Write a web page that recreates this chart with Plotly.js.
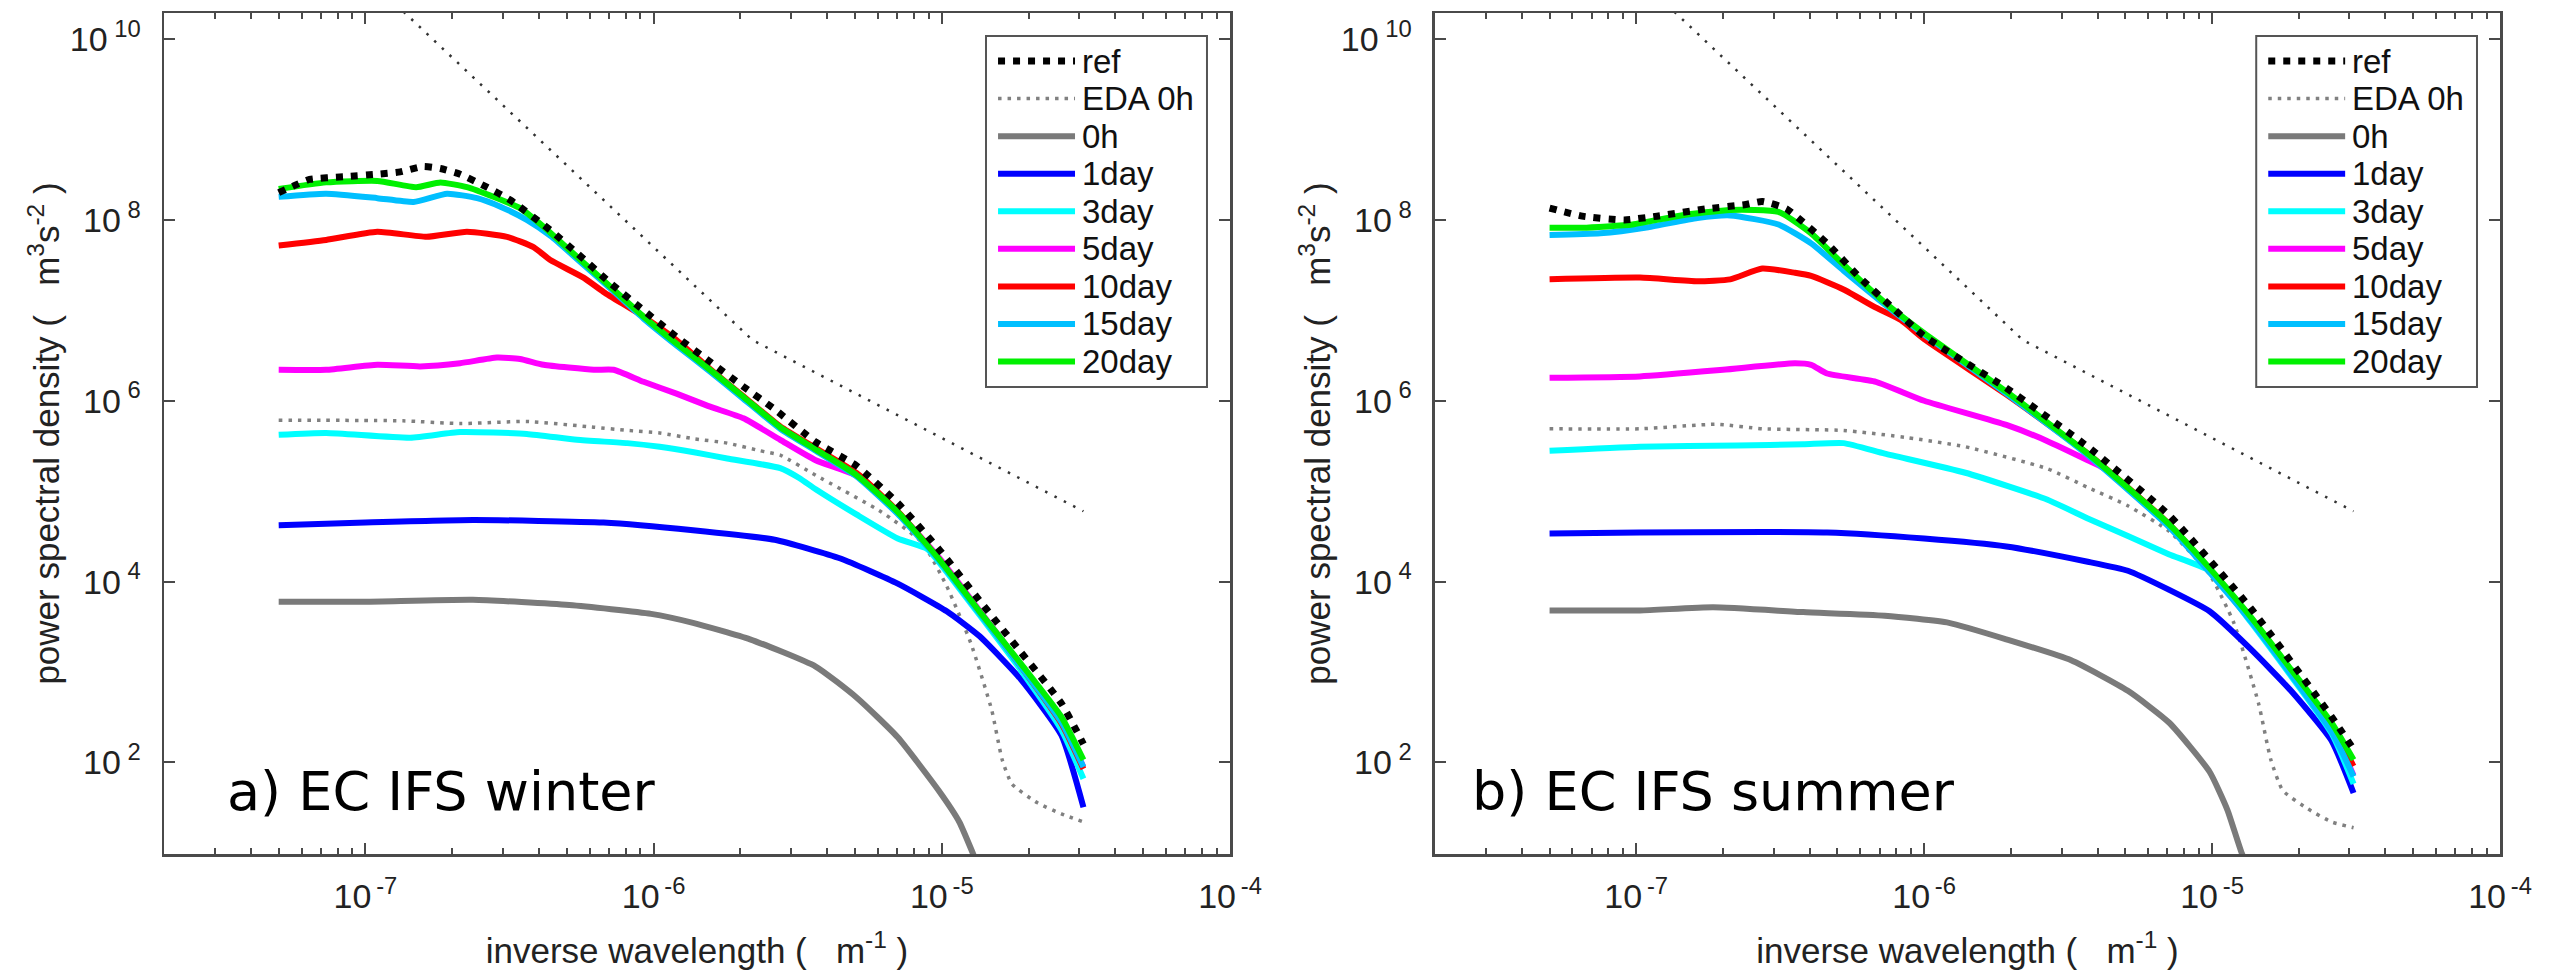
<!DOCTYPE html>
<html><head><meta charset="utf-8">
<script src="https://cdn.plot.ly/plotly-3.0.1.min.js"></script>
<style>html,body{margin:0;padding:0;background:#fff;} #chart{width:2550px;height:970px;}</style>
</head><body><div id="chart"></div>
<script>
// ---------- legend / series names ----------
const seriesNames = ['ref', 'EDA 0h', '0h', '1day', '3day', '5day', '10day', '15day', '20day'];
const panelLabels = ['a) EC IFS winter', 'b) EC IFS summer'];

// ---------- tick labels ----------
const xTickVals = [1e-7, 1e-6, 1e-5, 1e-4];
const xTickText = ['10<sup>\u2009-7</sup>', '10<sup>\u2009-6</sup>', '10<sup>\u2009-5</sup>', '10<sup>\u2009-4</sup>'];
const yTickVals = [1e2, 1e4, 1e6, 1e8, 1e10];
const yTickText = ['10<sup>\u00a02</sup>', '10<sup>\u00a04</sup>', '10<sup>\u00a06</sup>', '10<sup>\u00a08</sup>', '10<sup>\u00a010</sup>'];

// ---------- reference slope line (k^-3 then k^-5/3) ----------
const slopeK = [1e-7, 2.2e-6, 3.1e-5];
const slopePsd = [5e10, 4.7e6, 6.0e4];

// ---------- panel a: winter ----------
const kW_ref = [5e-8, 6.4e-8, 8.4e-8, 1.1e-7, 1.32e-7, 1.59e-7, 1.82e-7, 2.13e-7, 2.64e-7, 3.18e-7, 4.38e-7, 5.42e-7, 7.08e-7, 9.23e-7, 1.2e-6, 1.57e-6, 2.05e-6, 2.61e-6, 3.65e-6, 5.07e-6, 7.03e-6, 9.75e-6, 1.35e-5, 1.88e-5, 2.6e-5, 3.1e-5];
const psdW_ref = [2.0e8, 2.8e8, 3.0e8, 3.2e8, 3.4e8, 3.9e8, 3.7e8, 3.2e8, 2.3e8, 1.66e8, 7.7e7, 4.3e7, 2.0e7, 1.0e7, 5.1e6, 2.7e6, 1.43e6, 8.2e5, 3.5e5, 1.9e5, 7.4e4, 2.3e4, 6.2e3, 1.66e3, 450, 160];

const kW_eda = [5e-8, 1.35e-7, 2.13e-7, 3.63e-7, 6.2e-7, 8.1e-7, 1.05e-6, 1.38e-6, 1.8e-6, 2.34e-6, 2.75e-6, 3.65e-6, 6.17e-6, 8.55e-6, 1.04e-5, 1.26e-5, 1.49e-5, 1.62e-5, 1.75e-5, 2.14e-5, 2.6e-5, 3.1e-5];
const psdW_eda = [6.1e5, 6.0e5, 5.6e5, 5.9e5, 5.1e5, 4.7e5, 4.4e5, 3.8e5, 3.4e5, 2.8e5, 2.5e5, 1.5e5, 5.9e4, 2.7e4, 8.9e3, 2.1e3, 380, 107, 58, 36, 27, 22];

const kW_0h = [5e-8, 1e-7, 2.36e-7, 5.1e-7, 9.8e-7, 1.37e-6, 2.16e-6, 3.65e-6, 5.07e-6, 7.03e-6, 9.75e-6, 1.15e-5, 1.28e-5, 1.4e-5];
const psdW_0h = [6.0e3, 6.0e3, 6.3e3, 5.5e3, 4.4e3, 3.5e3, 2.3e3, 1.15e3, 520, 190, 49, 22, 10, 5];

const kW_1d = [5e-8, 1e-7, 2.36e-7, 6.7e-7, 1.37e-6, 2.63e-6, 4.45e-6, 7.03e-6, 1.04e-5, 1.35e-5, 1.88e-5, 2.6e-5, 3.1e-5];
const psdW_1d = [4.2e4, 4.5e4, 4.8e4, 4.5e4, 3.7e4, 2.9e4, 1.8e4, 9.5e3, 4.7e3, 2.5e3, 830, 200, 32];

const kW_3d = [5e-8, 7.3e-8, 1.43e-7, 2.13e-7, 3.63e-7, 5.42e-7, 8.1e-7, 1.05e-6, 1.38e-6, 1.8e-6, 2.75e-6, 3.2e-6, 3.65e-6, 5.07e-6, 7.03e-6, 8.9e-6, 9.75e-6, 1.35e-5, 1.88e-5, 2.6e-5, 3.1e-5];
const psdW_3d = [4.2e5, 4.4e5, 3.9e5, 4.5e5, 4.3e5, 3.7e5, 3.4e5, 3.1e5, 2.7e5, 2.3e5, 1.8e5, 1.4e5, 1.05e5, 5.5e4, 3.0e4, 2.3e4, 1.66e4, 4.3e3, 1.05e3, 230, 66];

const kW_5d = [5e-8, 7.3e-8, 1.1e-7, 1.55e-7, 2.13e-7, 2.86e-7, 3.44e-7, 4.15e-7, 6.2e-7, 7.26e-7, 9.23e-7, 1.2e-6, 1.57e-6, 2.05e-6, 2.75e-6, 3.65e-6, 5.07e-6, 7.03e-6, 9.75e-6, 1.35e-5, 1.88e-5, 2.6e-5, 3.1e-5];
const psdW_5d = [2.2e6, 2.2e6, 2.5e6, 2.4e6, 2.6e6, 3.0e6, 2.9e6, 2.5e6, 2.2e6, 2.2e6, 1.62e6, 1.2e6, 8.6e5, 6.4e5, 3.7e5, 2.2e5, 1.48e5, 5.9e4, 1.86e4, 4.8e3, 1.2e3, 290, 89];

const kW_10d = [5e-8, 7.3e-8, 1.1e-7, 1.63e-7, 2.25e-7, 3.1e-7, 3.83e-7, 4.38e-7, 5.71e-7, 6.7e-7, 9.23e-7, 1.2e-6, 1.57e-6, 2.05e-6, 2.75e-6, 3.65e-6, 5.07e-6, 7.03e-6, 9.75e-6, 1.35e-5, 1.88e-5, 2.6e-5, 3.1e-5];
const psdW_10d = [5.2e7, 6.0e7, 7.4e7, 6.5e7, 7.4e7, 6.5e7, 5.0e7, 3.6e7, 2.3e7, 1.6e7, 8.5e6, 4.7e6, 2.24e6, 1.12e6, 5.2e5, 3.0e5, 1.58e5, 6.0e4, 1.78e4, 4.6e3, 1.15e3, 270, 85];

const kW_15d = [5e-8, 7.3e-8, 1.1e-7, 1.47e-7, 1.92e-7, 2.44e-7, 2.94e-7, 3.63e-7, 4.4e-7, 5.42e-7, 7.08e-7, 9.23e-7, 1.2e-6, 1.57e-6, 2.05e-6, 2.75e-6, 3.65e-6, 5.07e-6, 7.03e-6, 9.75e-6, 1.35e-5, 1.88e-5, 2.6e-5, 3.1e-5];
const psdW_15d = [1.8e8, 1.95e8, 1.74e8, 1.58e8, 1.95e8, 1.74e8, 1.4e8, 1.0e8, 6.6e7, 3.7e7, 1.74e7, 8.1e6, 4.1e6, 2.1e6, 1.05e6, 4.9e5, 2.8e5, 1.45e5, 5.6e4, 1.74e4, 4.5e3, 1.15e3, 280, 89];

const kW_20d = [5e-8, 7.3e-8, 1.1e-7, 1.5e-7, 1.82e-7, 2.25e-7, 2.78e-7, 3.44e-7, 4.15e-7, 5.42e-7, 7.08e-7, 9.23e-7, 1.2e-6, 1.57e-6, 2.05e-6, 2.75e-6, 3.65e-6, 5.07e-6, 7.03e-6, 9.75e-6, 1.35e-5, 1.88e-5, 2.6e-5, 3.1e-5];
const psdW_20d = [2.2e8, 2.6e8, 2.7e8, 2.3e8, 2.6e8, 2.3e8, 1.8e8, 1.35e8, 8.4e7, 3.9e7, 1.82e7, 8.5e6, 4.3e6, 2.2e6, 1.1e6, 5.1e5, 2.9e5, 1.5e5, 5.9e4, 1.8e4, 4.7e3, 1.24e3, 320, 107];

// ---------- panel b: summer ----------
const kS_ref = [5e-8, 6.5e-8, 9.1e-8, 1.18e-7, 1.74e-7, 2.4e-7, 2.74e-7, 3.33e-7, 4.6e-7, 5.98e-7, 7.76e-7, 1.0e-6, 1.93e-6, 3.7e-6, 7.1e-6, 1.36e-5, 2.6e-5, 3.1e-5];
const psdS_ref = [1.35e8, 1.1e8, 1.0e8, 1.1e8, 1.32e8, 1.48e8, 1.6e8, 1.32e8, 5.5e7, 2.3e7, 1.07e7, 5.2e6, 1.38e6, 3.1e5, 5.4e4, 5.1e3, 320, 140];

const kS_eda = [5e-8, 1.03e-7, 1.91e-7, 2.74e-7, 5.25e-7, 8.8e-7, 1.39e-6, 2.67e-6, 3.7e-6, 5.1e-6, 7.1e-6, 9.8e-6, 1.19e-5, 1.45e-5, 1.6e-5, 1.76e-5, 2.14e-5, 2.6e-5, 3.1e-5];
const psdS_eda = [4.9e5, 4.9e5, 5.5e5, 4.9e5, 4.7e5, 3.9e5, 3.1e5, 1.78e5, 1.1e5, 6.9e4, 3.6e4, 1.2e4, 3.5e3, 450, 107, 49, 31, 22, 19];

const kS_0h = [5e-8, 1.03e-7, 1.85e-7, 3.8e-7, 7.3e-7, 1.22e-6, 1.93e-6, 3.24e-6, 5.1e-6, 7.1e-6, 9.8e-6, 1.13e-5, 1.27e-5, 1.4e-5];
const psdS_0h = [4.8e3, 4.8e3, 5.2e3, 4.6e3, 4.2e3, 3.5e3, 2.3e3, 1.35e3, 620, 275, 79, 30, 9.8, 5];

const kS_1d = [5e-8, 1.03e-7, 4.6e-7, 1.0e-6, 1.93e-6, 3.7e-6, 5.1e-6, 7.1e-6, 9.8e-6, 1.36e-5, 1.88e-5, 2.6e-5, 3.1e-5];
const psdS_1d = [3.4e4, 3.5e4, 3.5e4, 3.0e4, 2.45e4, 1.66e4, 1.32e4, 8.1e3, 4.7e3, 1.8e3, 620, 174, 46];

const kS_3d = [5e-8, 1.03e-7, 2.25e-7, 3.8e-7, 5.25e-7, 7.3e-7, 1.39e-6, 2.67e-6, 3.7e-6, 5.1e-6, 7.1e-6, 9.8e-6, 1.36e-5, 2.6e-5, 3.1e-5];
const psdS_3d = [2.8e5, 3.1e5, 3.2e5, 3.3e5, 3.4e5, 2.6e5, 1.6e5, 8.1e4, 5.0e4, 3.2e4, 2.0e4, 1.32e4, 3.6e3, 210, 58];

const kS_5d = [5e-8, 1.03e-7, 2.0e-7, 3.56e-7, 4.05e-7, 4.6e-7, 6.8e-7, 1.0e-6, 1.93e-6, 2.67e-6, 3.7e-6, 4.2e-6, 7.1e-6, 1.36e-5, 2.6e-5, 3.1e-5];
const psdS_5d = [1.8e6, 1.86e6, 2.2e6, 2.6e6, 2.5e6, 2.0e6, 1.62e6, 1.0e6, 5.4e5, 3.6e5, 2.2e5, 1.8e5, 4.1e4, 3.8e3, 235, 72];

const kS_10d = [5e-8, 1.03e-7, 1.63e-7, 2.12e-7, 2.74e-7, 3.56e-7, 4.05e-7, 5.25e-7, 6.8e-7, 8.3e-7, 1.0e-6, 1.93e-6, 3.7e-6, 7.1e-6, 1.36e-5, 2.6e-5, 3.1e-5];
const psdS_10d = [2.2e7, 2.3e7, 2.1e7, 2.2e7, 2.9e7, 2.6e7, 2.4e7, 1.7e7, 1.07e7, 7.8e6, 4.8e6, 1.17e6, 2.6e5, 4.3e4, 4.0e3, 250, 91];

const kS_15d = [5e-8, 7.5e-8, 1.1e-7, 1.63e-7, 2.12e-7, 3.12e-7, 4.05e-7, 5.25e-7, 7.28e-7, 1.0e-6, 1.93e-6, 3.7e-6, 7.1e-6, 1.36e-5, 2.6e-5, 3.1e-5];
const psdS_15d = [6.8e7, 7.1e7, 8.3e7, 1.05e8, 1.12e8, 8.9e7, 5.5e7, 2.75e7, 1.17e7, 5.4e6, 1.2e6, 2.5e5, 4.0e4, 3.7e3, 220, 70];

const kS_20d = [5e-8, 6.5e-8, 9.7e-8, 1.43e-7, 2.12e-7, 3.12e-7, 4.05e-7, 5.25e-7, 7.28e-7, 1.0e-6, 1.93e-6, 3.7e-6, 7.1e-6, 9.8e-6, 1.36e-5, 1.88e-5, 2.6e-5, 3.1e-5];
const psdS_20d = [8.2e7, 8.2e7, 8.9e7, 1.12e8, 1.29e8, 1.23e8, 7.1e7, 3.2e7, 1.23e7, 5.6e6, 1.26e6, 2.6e5, 4.3e4, 1.41e4, 4.1e3, 1.07e3, 275, 107];

// ---------- styles ----------
const styles = {
  'ref':    {color: '#000000', width: 7,   dash: '7px,8px'},
  'EDA 0h': {color: '#808080', width: 3.5, dash: '3.5px,6px'},
  '0h':     {color: '#7a7a7a', width: 6, dash: 'solid'},
  '1day':   {color: '#0000ff', width: 6, dash: 'solid'},
  '3day':   {color: '#00ffff', width: 6, dash: 'solid'},
  '5day':   {color: '#ff00ff', width: 6, dash: 'solid'},
  '10day':  {color: '#ff0000', width: 6, dash: 'solid'},
  '15day':  {color: '#00bfff', width: 6, dash: 'solid'},
  '20day':  {color: '#00f000', width: 6, dash: 'solid'}
};
const slopeStyle = {color: '#333333', width: 2.5, dash: '2.5px,8px'};

const panels = [
  {ax: '', data: {'ref': [kW_ref, psdW_ref], 'EDA 0h': [kW_eda, psdW_eda], '0h': [kW_0h, psdW_0h], '1day': [kW_1d, psdW_1d], '3day': [kW_3d, psdW_3d], '5day': [kW_5d, psdW_5d], '10day': [kW_10d, psdW_10d], '15day': [kW_15d, psdW_15d], '20day': [kW_20d, psdW_20d]}},
  {ax: '2', data: {'ref': [kS_ref, psdS_ref], 'EDA 0h': [kS_eda, psdS_eda], '0h': [kS_0h, psdS_0h], '1day': [kS_1d, psdS_1d], '3day': [kS_3d, psdS_3d], '5day': [kS_5d, psdS_5d], '10day': [kS_10d, psdS_10d], '15day': [kS_15d, psdS_15d], '20day': [kS_20d, psdS_20d]}}
];

const drawOrder = ['EDA 0h', '0h', '1day', '3day', '5day', '10day', '15day', '20day', 'ref'];
const traces = [];
panels.forEach(p => {
  traces.push({type: 'scatter', mode: 'lines', x: slopeK, y: slopePsd, xaxis: 'x' + p.ax, yaxis: 'y' + p.ax,
    line: slopeStyle, showlegend: false, hoverinfo: 'skip'});
  drawOrder.forEach(n => {
    const s = styles[n];
    traces.push({type: 'scatter', mode: 'lines', name: n, x: p.data[n][0], y: p.data[n][1],
      xaxis: 'x' + p.ax, yaxis: 'y' + p.ax,
      line: {color: s.color, width: s.width, dash: s.dash, shape: 'spline', smoothing: 0.5}, showlegend: false});
  });
});

// minor ticks 2..9 per decade
const minorX = [];
[1e-8, 1e-7, 1e-6, 1e-5].forEach(d => { for (let m = 2; m <= 9; m++) minorX.push(m * d); });

const axisCol = '#4a4a4a';
const tickFont = {family: 'Liberation Sans, Arial, sans-serif', size: 34, color: '#222'};
const titleFont = {family: 'Liberation Sans, Arial, sans-serif', size: 35, color: '#222'};
const NB = '\u00a0';
const xTitle = 'inverse wavelength (' + NB + NB + NB + 'm<sup>-1</sup>' + NB + ')';
const yTitle = 'power spectral density (' + NB + NB + NB + 'm<sup>3</sup>s<sup>-2</sup>' + NB + ')';

function xAxis(dom) {
  return {domain: dom, type: 'log', range: [-7.699, -4], tickmode: 'array', tickvals: xTickVals, ticktext: xTickText,
    ticks: 'inside', ticklen: 11, tickwidth: 2, tickcolor: axisCol, showline: true, linecolor: axisCol, linewidth: 2.5,
    mirror: 'allticks', showgrid: false, zeroline: false, tickfont: tickFont, ticklabelstandoff: 11,
    minor: {tickmode: 'array', tickvals: minorX, ticks: 'inside', ticklen: 6, tickwidth: 2, tickcolor: axisCol, showgrid: false},
    title: {text: xTitle, font: titleFont}};
}
function yAxis(anchor) {
  return {anchor: anchor, type: 'log', range: [0.988, 10.288], tickmode: 'array', tickvals: yTickVals, ticktext: yTickText,
    ticks: 'inside', ticklen: 11, tickwidth: 2, tickcolor: axisCol, showline: true, linecolor: axisCol, linewidth: 2.5,
    mirror: 'allticks', showgrid: false, zeroline: false, tickfont: tickFont, ticklabelstandoff: 14,
    automargin: true,
    title: {text: yTitle, font: titleFont, standoff: 0}};
}

// legend drawn as shapes + text, positioned in axis-domain fractions
const shapes = [];
const annotations = [];
const legBox = {x0: 0.7711, x1: 0.9784, y0: 0.5553, y1: 0.9727};
const legLine = {x0: 0.7824, x1: 0.8546, tx: 0.8595, yTop: 0.9429, step: 0.04466};
['', '2'].forEach((ax, pi) => {
  const xr = 'x' + ax + ' domain', yr = 'y' + ax + ' domain';
  shapes.push({type: 'rect', xref: xr, yref: yr, x0: legBox.x0, x1: legBox.x1, y0: legBox.y0, y1: legBox.y1,
    line: {color: '#555', width: 2}, fillcolor: '#ffffff', layer: 'above'});
  seriesNames.forEach((n, i) => {
    const y = legLine.yTop - i * legLine.step;
    const s = styles[n];
    shapes.push({type: 'line', xref: xr, yref: yr, x0: legLine.x0, x1: legLine.x1, y0: y, y1: y,
      line: {color: s.color, width: s.width, dash: s.dash}, layer: 'above'});
    annotations.push({xref: xr, yref: yr, x: legLine.tx, y: y, xanchor: 'left', yanchor: 'middle', showarrow: false,
      text: n, font: {family: 'Liberation Sans, Arial, sans-serif', size: 33, color: '#111'}});
  });
  annotations.push({xref: xr, yref: yr, x: pi === 0 ? 0.057 : 0.033, y: 0.074, xanchor: 'left', yanchor: 'middle',
    showarrow: false, text: panelLabels[pi], font: {family: 'DejaVu Sans, sans-serif', size: 54, color: '#000'}});
});

const layout = {
  width: 2550, height: 970,
  margin: {l: 164, r: 50, t: 13, b: 116},
  paper_bgcolor: '#ffffff', plot_bgcolor: '#ffffff',
  showlegend: false,
  xaxis: Object.assign(xAxis([0, 0.45634]), {anchor: 'y'}),
  yaxis: yAxis('x'),
  xaxis2: Object.assign(xAxis([0.54409, 1]), {anchor: 'y2'}),
  yaxis2: yAxis('x2'),
  shapes: shapes,
  annotations: annotations
};

Plotly.newPlot('chart', traces, layout, {staticPlot: true});
</script></body></html>
